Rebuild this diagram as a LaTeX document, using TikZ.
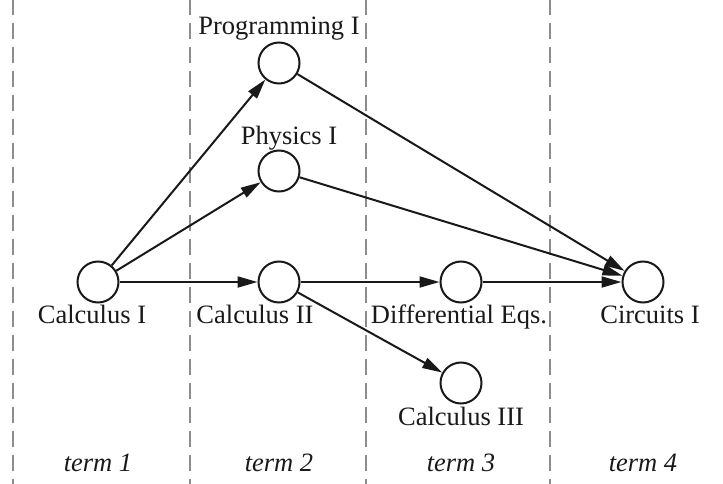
\documentclass[tikz,border=0pt]{standalone}
\usepackage{fontspec}
\setmainfont{Liberation Serif}
\usetikzlibrary{positioning,arrows.meta}

\begin{document}
\begin{tikzpicture}[x=1pt, y=-1pt,
  course/.style={draw=black!90, circle, minimum size=41pt, inner sep=0pt, line width=2pt},
  lbl/.style={font=\fontsize{26.5}{30}\selectfont, text=black!90, inner sep=0pt, anchor=base},
  term/.style={lbl, font=\fontsize{26.5}{30}\selectfont\itshape},
  arr/.style={-{Triangle[length=20pt,width=11pt]}, draw=black!90, line width=2pt},
  sep/.style={draw=black!45, line width=1.4pt, dash pattern=on 16pt off 8pt, dash phase=1.3pt}
]
\useasboundingbox (0,0) rectangle (723,484);

% term separators
\foreach \x in {13,190,366,550}
  \draw[sep] (\x,0) -- (\x,484);

\node[course] (calc1)  at (98,282)  {};
\node[course] (prog)   at (279,63)  {};
\node[course] (phys)   at (279,171) {};
\node[course] (calc2)  at (279,282) {};
\node[course] (diffeq) at (461,282) {};
\node[course] (calc3)  at (461,383) {};
\node[course] (circ)   at (643,282) {};

\node[lbl, above=7pt of prog.north, anchor=base] (prog-l) {Programming I};
\node[lbl, above=5pt of phys.north, anchor=base, xshift=10pt] (phys-l) {Physics I};
\node[lbl, below=20pt of calc1.south, anchor=base, xshift=-6pt] (calc1-l) {Calculus I};
\node[lbl, below=20pt of calc2.south, anchor=base, xshift=-24pt] (calc2-l) {Calculus II};
\node[lbl, below=20pt of diffeq.south, anchor=base, xshift=-2pt] (diffeq-l) {Differential Eqs.};
\node[lbl, below=20pt of circ.south, anchor=base, xshift=7pt] (circ-l) {Circuits I};
\node[lbl, below=21pt of calc3.south, anchor=base] (calc3-l) {Calculus III};

\draw[arr] (calc1) -- (prog);
\draw[arr] (calc1) -- (phys);
\draw[arr] (calc1) -- (calc2);
\draw[arr] (calc2) -- (diffeq);
\draw[arr] (calc2) -- (calc3);
\draw[arr] (prog) -- (circ);
\draw[arr] (phys) -- (circ);
\draw[arr] (diffeq) -- (circ);

% term names
\foreach \x/\t in {98/1,279/2,461/3,643/4}
  \node[term] (term\t) at (\x,471) {term \t};
\end{tikzpicture}
\end{document}
